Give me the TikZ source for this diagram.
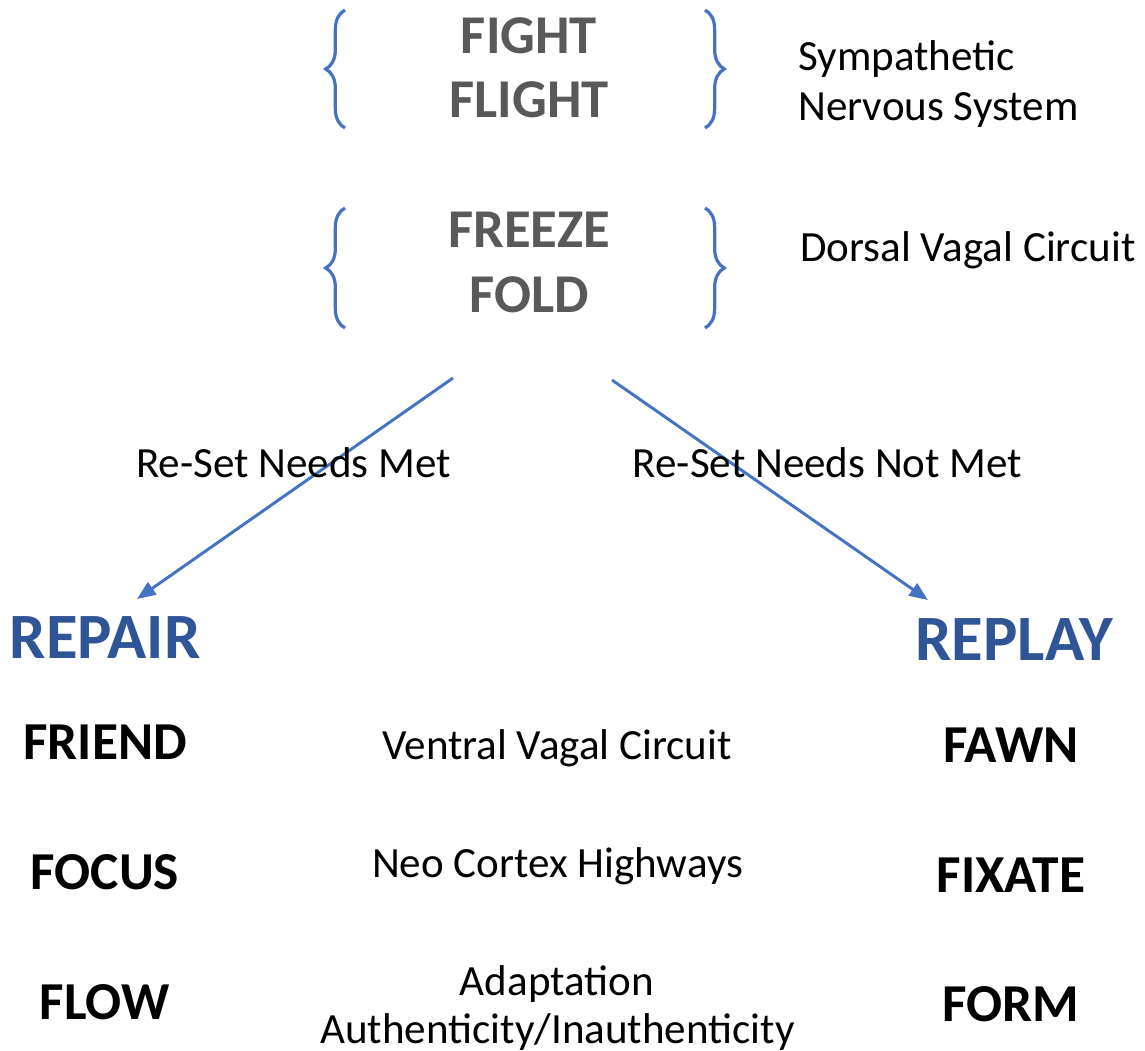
\documentclass[tikz,border=0pt]{standalone}
\usepackage{fontspec}
\setmainfont{Carlito}
\usetikzlibrary{arrows.meta, decorations.pathreplacing, positioning}

\definecolor{alarmgray}{HTML}{595959}
\definecolor{linkblue}{HTML}{4472C4}
\definecolor{outblue}{HTML}{2F5597}

\tikzset{
    alarm/.style={anchor=base, inner sep=0, text=alarmgray,
        font=\fontsize{41}{48}\selectfont\bfseries},
    outcome/.style={anchor=base, inner sep=0, text=outblue,
        font=\fontsize{48.5}{56}\selectfont\bfseries},
    mode/.style={anchor=base, inner sep=0,
        font=\fontsize{40}{46}\selectfont\bfseries},
    pathway/.style={anchor=base, inner sep=0,
        font=\fontsize{32.3}{38}\selectfont},
    bracket/.style={draw=linkblue, line width=2.4pt, decorate,
        decoration={brace, amplitude=14.5pt}},
    route/.style={draw=linkblue, line width=2.2pt,
        -{Triangle[length=14pt, width=11pt]}}
}

\begin{document}
\begin{tikzpicture}[x=0.75pt, y=-0.75pt]
\useasboundingbox (0,0) rectangle (1145,1050);

% Top states
\node[alarm] (fight) at (529,53) {FIGHT};
\node[alarm] (flight) at (529,117) {FLIGHT};
\node[alarm] (freeze) at (529,247) {FREEZE};
\node[alarm] (fold) at (529,312) {FOLD};

\node[pathway, anchor=base west] (symp) at (798,70) {Sympathetic};
\node[pathway, anchor=base west] (nerv) at (798,120) {Nervous System};
\node[pathway, anchor=base west] (dorsal) at (800,261) {Dorsal Vagal Circuit};

% Braces
\draw[bracket] (345,128) -- (345,10);
\draw[bracket] (705,10) -- (705,128);
\draw[bracket] (345,328) -- (345,208);
\draw[bracket] (705,208) -- (705,328);

% Outcomes
\node[outcome] (repair) at (105,658) {REPAIR};
\node[outcome] (replay) at (1014,660) {REPLAY};

\node[mode] (friend) at (105,759) {FRIEND};
\node[mode] (focus) at (105,889) {FOCUS};
\node[mode] (flow) at (104.5,1019) {FLOW};

\node[mode] (fawn) at (1011,762) {FAWN};
\node[mode] (fixate) at (1011,892) {FIXATE};
\node[mode] (form) at (1011,1021) {FORM};

\node[pathway] (ventral) at (557,759) {Ventral Vagal Circuit};
\node[pathway] (neo) at (557.5,877) {Neo Cortex Highways};
\node[pathway] (adapt) at (557,995) {Adaptation};
\node[pathway] (auth) at (557.5,1043) {Authenticity/Inauthenticity};

% Arrows
\coordinate (splitL) at (453,378);
\coordinate (splitR) at (612,380);
\coordinate (tipL) at (137,599);
\coordinate (tipR) at (928,600);

\draw[route] (splitL) -- (tipL);
\draw[route] (splitR) -- (tipR);

\node[pathway] (met) at (293.5,477) {Re-Set Needs Met};
\node[pathway] (notmet) at (827.5,477) {Re-Set Needs Not Met};

\end{tikzpicture}
\end{document}
